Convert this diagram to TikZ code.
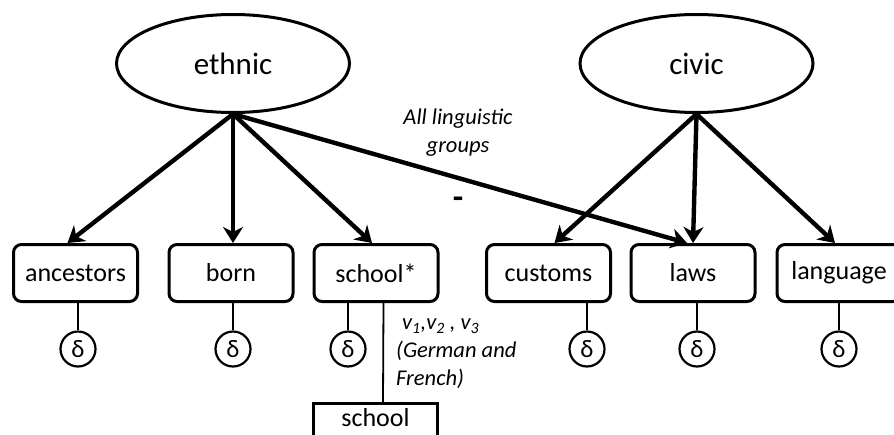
\documentclass[tikz,border=0pt]{standalone}
\usepackage{fontspec}
\setmainfont{Carlito}
\usetikzlibrary{shapes.geometric,arrows.meta}
\begin{document}
\begin{tikzpicture}[x=1pt,y=-1pt,
  latent/.style={ellipse,draw,line width=3pt,minimum width=233pt,minimum height=98pt,inner sep=0pt,font=\fontsize{31}{36}\selectfont},
  ind/.style={rectangle,rounded corners=8pt,draw,line width=3pt,minimum width=124pt,minimum height=57pt,inner sep=0pt,font=\fontsize{26}{31}\selectfont},
  err/.style={circle,draw,line width=2.2pt,minimum size=35pt,inner sep=0pt,font=\fontsize{25}{29}\selectfont},
  load/.style={line width=4.4pt,-{Stealth[length=16pt,width=20pt,inset=5pt]}},
  tie/.style={line width=1.8pt},
  note/.style={font=\fontsize{22.5}{28}\selectfont\itshape,inner sep=0pt}]
\useasboundingbox (0,0) rectangle (894,434);
\clip (0,0) rectangle (894,434);

% latent factors
\node[latent] (ethnic) at (233,63.5) {ethnic};
\node[latent] (civic) at (696.5,63.5) {civic};

% indicators
\node[ind] (anc)  at (75.5,273) {ancestors};
\node[ind] (born) at (231,273)  {born};
\node[ind] (sch)  at (376,273)  {school*};
\node[ind] (cus)  at (548.5,273) {customs};
\node[ind] (laws) at (693,273)  {laws};
\node[ind] (lang) at (839,273)  {language};

% error terms
\node[err] (d1) at (78,349)  {δ};
\node[err] (d2) at (233,349) {δ};
\node[err] (d3) at (348,349) {δ};
\node[err] (d4) at (587,349) {δ};
\node[err] (d5) at (697,349) {δ};
\node[err] (d6) at (839,349) {δ};

% grouping variable
\node[rectangle,draw,line width=3pt,minimum width=124pt,inner xsep=0pt,inner ysep=3pt,
      text height=20pt,text depth=40pt,anchor=north,font=\fontsize{26}{31}\selectfont]
      (obs) at (375.5,402) {school};

% loadings
\draw[load] (ethnic.south) -- ([xshift=-8pt]anc.north);
\draw[load] (ethnic.south) -- ([xshift=2pt]born.north);
\draw[load] (ethnic.south) -- ([xshift=-4pt]sch.north);
\draw[load] (ethnic.south) -- ([xshift=-6pt]laws.north);
\draw[load] (civic.south) -- ([xshift=6pt]cus.north);
\draw[load] (civic.south) -- (laws.north);
\draw[load] (civic.south) -- ([xshift=-4pt]lang.north);

% error links
\foreach \d/\b in {d1/anc,d2/born,d3/sch,d4/cus,d5/laws,d6/lang}
  \draw[tie] (\d.north) -- (\d |- \b.south);
\draw[tie] ([xshift=7.5pt]sch.south) -- ([xshift=7.5pt]obs.north);

% annotations
\node[note,align=center] (grp) at (458,133) {All linguistic\\groups};
\node[font=\fontsize{34}{38}\selectfont\bfseries,inner sep=0pt] (neg) at (458,203) {-};
\node[note,align=left,anchor=north west] (vals) at (396,319)
  {\hspace*{6pt}v\textsubscript{1},v\textsubscript{2} , v\textsubscript{3}\\(German and\\French)};
\end{tikzpicture}
\end{document}
